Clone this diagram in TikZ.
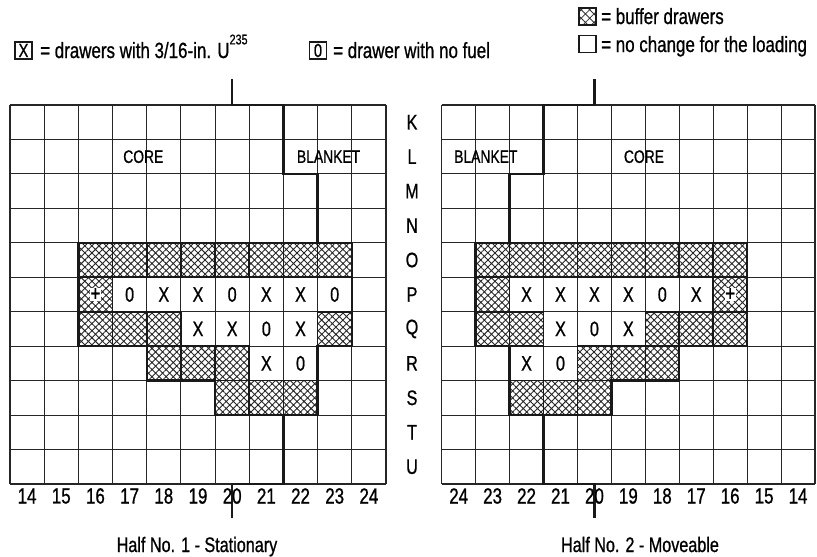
\documentclass[tikz,border=0pt]{standalone}
\usepackage{fontspec}
\setmainfont{Liberation Sans}[FakeStretch=0.77,FakeBold=0.8]
\usetikzlibrary{patterns.meta}
\tikzset{
  gridline/.style={line width=1.1pt, draw=black!85},
  bnd/.style={line width=2.3pt, draw=black!90, line join=miter, line cap=rect},
  hcell/.style={pattern={Hatch[angle=45,distance=5pt,line width=0.9pt]}, pattern color=black!85},
  hborder/.style={line width=1.6pt, draw=black!90},
  celltxt/.style={font=\fontsize{21}{23}\selectfont, inner sep=0pt},
  plustxt/.style={font=\fontsize{22}{24}\selectfont, inner sep=0.4pt, fill=white},
  rowlab/.style={font=\fontsize{21}{23}\selectfont, inner sep=0pt},
  collab/.style={font=\fontsize{22}{24}\selectfont, inner sep=0pt},
  zonelab/.style={font=\fontsize{18}{20}\selectfont, inner sep=0pt},
  legtxt/.style={font=\fontsize{22}{24}\selectfont, inner sep=0pt, anchor=base west},
  legbox/.style={draw=black!90, line width=1.1pt, minimum width=17pt, minimum height=17pt, inner sep=0pt},
  leghatch/.style={pattern={Hatch[angle=45,distance=6pt,line width=0.8pt]}, pattern color=black!80},
  titletxt/.style={font=\fontsize{21}{23}\selectfont, inner sep=0pt, anchor=base},
}
\begin{document}
\begin{tikzpicture}[x=1pt,y=-1pt]
\useasboundingbox (0,0) rectangle (817,557);
\fill[white] (0,0) rectangle (817,557);

% ---------------- legend ----------------
\node[legbox, font=\fontsize{19}{21}\selectfont] (legX) at (23.5,50.5) {X};
\node[legtxt] (legXt) at (40,58) {= drawers with 3/16-in. U\raisebox{0.62em}{\fontsize{14}{16}\selectfont 235}};
\node[legbox, font=\fontsize{19}{21}\selectfont] (leg0) at (318,50.5) {0};
\node[legtxt] (leg0t) at (333,58) {= drawer with no fuel};
\node[legbox, leghatch] (legH) at (587.5,16.5) {};
\node[legtxt] (legHt) at (601,24) {= buffer drawers};
\node[legbox] (legE) at (587.5,44) {};
\node[legtxt] (legEt) at (601,52) {= no change for the loading};

% ---------------- row letters ----------------
\foreach \L [count=\r from 0] in {K,L,M,N,O,P,Q,R,S,T,U}
  \node[rowlab] (row\L) at (412,{105+(\r+0.5)*34.45}) {\L};

% ---------------- left half ----------------
\begin{scope}[xshift=10pt, yshift=-105pt, x=34.18pt, y=-34.45pt]
  \foreach \c/\r in {2/4,3/4,4/4,5/4,6/4,7/4,8/4,9/4,2/5,2/6,3/6,4/6,9/6,4/7,5/7,6/7,6/8,7/8,8/8}
    \fill[hcell] (\c,\r) rectangle ++(1,1);
  \foreach \i in {0,...,11} {
    \draw[gridline] (\i,0) -- (\i,11);
    \draw[gridline] (0,\i) -- (11,\i);
  }
  \foreach \c/\r in {2/4,3/4,4/4,5/4,6/4,7/4,8/4,9/4,2/5,2/6,3/6,4/6,9/6,4/7,5/7,6/7,6/8,7/8,8/8}
    \draw[hborder] (\c,\r) rectangle ++(1,1);
  \draw[bnd] (2,4) -- (10,4) -- (10,7) -- (9,7) -- (9,9) -- (6,9) -- (6,8) -- (4,8) -- (4,7) -- (2,7) -- cycle;
  \coordinate (lTop) at (6.5,-0.73);
  \coordinate (lBot) at (6.5,11.96);
  \draw[bnd] (lTop) -- (6.5,0) -- (8,0) -- (8,2) -- (9,2) -- (9,4);
  \draw[bnd] (8,9) -- (8,11) -- (6.5,11) -- (lBot);
  \node[plustxt] (lp16) at (2.5,5.5) {+};
  \foreach \c/\t [count=\k] in {3/0,4/X,5/X,6/0,7/X,8/X,9/0}
    \node[celltxt] (lP\k) at (\c+0.5,5.5) {\t};
  \foreach \c/\t [count=\k] in {5/X,6/X,7/0,8/X}
    \node[celltxt] (lQ\k) at (\c+0.5,6.5) {\t};
  \foreach \c/\t [count=\k] in {7/X,8/0}
    \node[celltxt] (lR\k) at (\c+0.5,7.5) {\t};
  \node[zonelab] (lcore) at (3.9,1.5) {CORE};
  \node[zonelab] (lblanket) at (9.32,1.5) {BLANKET};
  \foreach \c in {0,...,10} {
    \pgfmathtruncatemacro\lab{14+\c}
    \node[collab] (lc\c) at (\c+0.5,11.35) {\lab};
  }
\end{scope}
\node[titletxt] (ltitle) at (197,552) {Half No. 1 - Stationary};

% ---------------- right half ----------------
\begin{scope}[xshift=441.7pt, yshift=-105pt, x=33.94pt, y=-34.45pt]
  \foreach \c/\r in {1/4,2/4,3/4,4/4,5/4,6/4,7/4,8/4,1/5,8/5,1/6,2/6,6/6,7/6,8/6,4/7,5/7,6/7,2/8,3/8,4/8}
    \fill[hcell] (\c,\r) rectangle ++(1,1);
  \foreach \i in {0,...,11} {
    \draw[gridline] (\i,0) -- (\i,11);
    \draw[gridline] (0,\i) -- (11,\i);
  }
  \foreach \c/\r in {1/4,2/4,3/4,4/4,5/4,6/4,7/4,8/4,1/5,8/5,1/6,2/6,6/6,7/6,8/6,4/7,5/7,6/7,2/8,3/8,4/8}
    \draw[hborder] (\c,\r) rectangle ++(1,1);
  \draw[bnd] (1,4) -- (9,4) -- (9,7) -- (7,7) -- (7,8) -- (5,8) -- (5,9) -- (2,9) -- (2,7) -- (1,7) -- cycle;
  \coordinate (rTop) at (4.5,-0.73);
  \coordinate (rBot) at (4.5,11.96);
  \draw[bnd] (rTop) -- (4.5,0) -- (3,0) -- (3,2) -- (2,2) -- (2,4);
  \draw[bnd] (3,9) -- (3,11) -- (4.5,11) -- (rBot);
  \node[plustxt] (rp16) at (8.5,5.5) {+};
  \foreach \c/\t [count=\k] in {2/X,3/X,4/X,5/X,6/0,7/X}
    \node[celltxt] (rP\k) at (\c+0.5,5.5) {\t};
  \foreach \c/\t [count=\k] in {3/X,4/0,5/X}
    \node[celltxt] (rQ\k) at (\c+0.5,6.5) {\t};
  \foreach \c/\t [count=\k] in {2/X,3/0}
    \node[celltxt] (rR\k) at (\c+0.5,7.5) {\t};
  \node[zonelab] (rblanket) at (1.3,1.5) {BLANKET};
  \node[zonelab] (rcore) at (5.96,1.5) {CORE};
  \foreach \c in {0,...,10} {
    \pgfmathtruncatemacro\lab{24-\c}
    \node[collab] (rc\c) at (\c+0.5,11.35) {\lab};
  }
\end{scope}
\node[titletxt] (rtitle) at (640,552) {Half No. 2 - Moveable};
\end{tikzpicture}
\end{document}
